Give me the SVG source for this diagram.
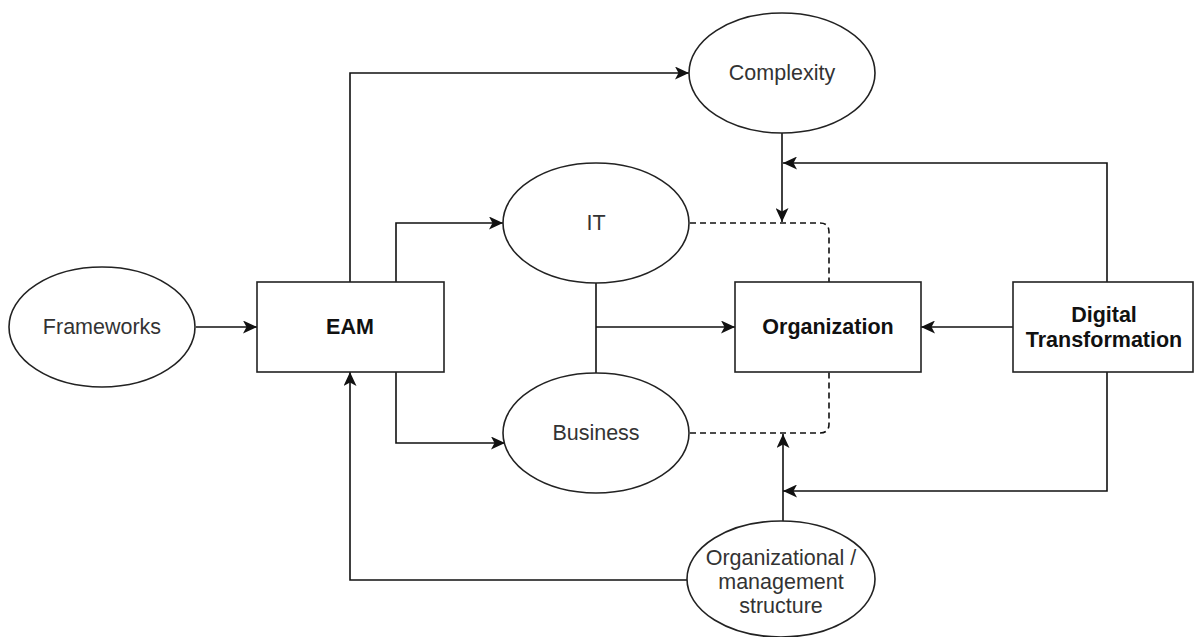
<svg xmlns="http://www.w3.org/2000/svg" width="1195" height="637" viewBox="0 0 1195 637">
  <style>
    .shape { fill: #ffffff; stroke: #222222; stroke-width: 1.6; }
    .label { font-family: "Liberation Sans", Arial, sans-serif; font-size: 21.5px; fill: #333333; text-anchor: middle; dominant-baseline: central; }
    .bold { font-weight: bold; fill: #111111; }
    .wire { fill: none; stroke: #111111; stroke-width: 1.6; }
    .arrow { marker-end: url(#head); }
    .dash { stroke-dasharray: 6 4; }
  </style>
  <defs>
    <marker id="head" markerUnits="userSpaceOnUse" markerWidth="15" markerHeight="13" refX="14" refY="6.5" orient="auto">
      <path d="M0,0 L14,6.5 L0,13 L3.5,6.5 Z" fill="#111111"/>
    </marker>
  </defs>
  <rect width="1195" height="637" fill="#ffffff"/>

  <g id="connectors">
    <path class="wire arrow" d="M196,327 H257"/>
    <path class="wire arrow" d="M350,282 V73 H689"/>
    <path class="wire arrow" d="M396,282 V223 H503"/>
    <path class="wire arrow" d="M396,372 V443 H505"/>
    <path class="wire" d="M596,283 V373"/>
    <path class="wire arrow" d="M596,327 H735"/>
    <path class="wire dash" d="M690,223 H820 Q829,223 829,232 V282"/>
    <path class="wire dash" d="M690,433 H820 Q829,433 829,424 V372"/>
    <path class="wire arrow" d="M782,133 V222"/>
    <path class="wire arrow" d="M1107,282 V163 H783"/>
    <path class="wire arrow" d="M1013,327 H921"/>
    <path class="wire arrow" d="M1107,372 V491 H783"/>
    <path class="wire arrow" d="M783,521 V434"/>
    <path class="wire arrow" d="M687,580 H350 V372"/>
  </g>

  <g id="frameworks">
    <ellipse class="shape" cx="102" cy="327" rx="93" ry="60"/>
    <text class="label" x="102" y="327">Frameworks</text>
  </g>

  <g id="eam">
    <rect class="shape" x="257" y="282" width="187" height="90"/>
    <text class="label bold" x="350" y="327">EAM</text>
  </g>

  <g id="complexity">
    <ellipse class="shape" cx="782" cy="73" rx="93" ry="60"/>
    <text class="label" x="782" y="73">Complexity</text>
  </g>

  <g id="it">
    <ellipse class="shape" cx="596" cy="223" rx="93" ry="60"/>
    <text class="label" x="596" y="223">IT</text>
  </g>

  <g id="business">
    <ellipse class="shape" cx="596" cy="433" rx="93" ry="60"/>
    <text class="label" x="596" y="433">Business</text>
  </g>

  <g id="organization">
    <rect class="shape" x="735" y="282" width="186" height="90"/>
    <text class="label bold" x="828" y="327">Organization</text>
  </g>

  <g id="digital-transformation">
    <rect class="shape" x="1013" y="282" width="180" height="90"/>
    <text class="label bold" x="1104" y="315">Digital</text>
    <text class="label bold" x="1104" y="340">Transformation</text>
  </g>

  <g id="management-structure">
    <ellipse class="shape" cx="781" cy="579" rx="94" ry="58"/>
    <text class="label" x="781" y="558">Organizational /</text>
    <text class="label" x="781" y="582">management</text>
    <text class="label" x="781" y="606">structure</text>
  </g>
</svg>
